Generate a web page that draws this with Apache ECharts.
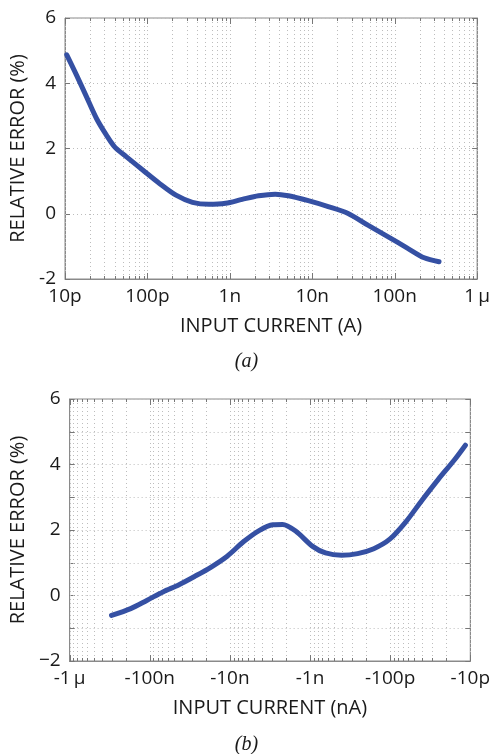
<!DOCTYPE html>
<html>
<head>
<meta charset="utf-8">
<script src="https://cdn.jsdelivr.net/npm/echarts@6/dist/echarts.min.js"></script>
<style>
  html, body { margin: 0; padding: 0; background: #ffffff; }
  #chart { width: 493px; height: 754px; }
</style>
</head>
<body>
<div id="chart"></div>
<script>
// (a) positive input current (A) vs. relative error (%)
const currentA = [1.05e-11, 1.38e-11, 1.82e-11, 2.41e-11, 3.18e-11, 4.0e-11, 5.53e-11, 8.77e-11,
  1.40e-10, 2.22e-10, 3.52e-10, 5.58e-10, 8.87e-10, 1.41e-9, 2.23e-9, 3.55e-9, 5.14e-9,
  8.95e-9, 1.56e-8, 2.72e-8, 4.73e-8, 8.24e-8, 1.44e-7, 2.28e-7, 3.45e-7];
const errorA = [4.87, 4.25, 3.59, 2.92, 2.41, 2.05, 1.75, 1.34,
  0.93, 0.57, 0.35, 0.29, 0.32, 0.44, 0.55, 0.60, 0.55,
  0.40, 0.22, 0.01, -0.35, -0.70, -1.06, -1.35, -1.47];

// (b) negative input current (A) vs. relative error (%)
const currentB = [-3.0e-7, -1.73e-7, -1.09e-7, -6.84e-8, -4.31e-8, -2.72e-8, -1.71e-8, -1.08e-8,
  -6.78e-9, -4.27e-9, -2.9e-9, -2.2e-9, -1.5e-9, -9.27e-10, -6.41e-10, -4.04e-10,
  -2.55e-10, -1.60e-10, -1.01e-10, -6.37e-11, -4.0e-11, -2.52e-11, -1.59e-11, -1.15e-11];
const errorB = [-0.61, -0.40, -0.15, 0.11, 0.33, 0.59, 0.87, 1.20,
  1.64, 1.99, 2.16, 2.17, 1.96, 1.50, 1.30, 1.23,
  1.28, 1.43, 1.72, 2.25, 2.91, 3.54, 4.13, 4.59];

// Decade ticks and their labels
const decades = [1e-11, 1e-10, 1e-9, 1e-8, 1e-7, 1e-6];
const tickLabelsA = ['10p', '100p', '1n', '10n', '100n', '1\u2009\u00b5'];
const tickLabelsB = ['-10p', '-100p', '-1n', '-10n', '-100n', '-1\u2009\u00b5'];

const FONT = 'Open Sans';
const LINE_COLOR = '#3550a3';
const FRAME = '#8a8a8a';
const DOT = '#bdbdbd';

function decadeLabel(labels) {
  return function (v) {
    const lg = Math.log10(v);
    for (let i = 0; i < decades.length; i++) {
      if (Math.abs(lg - Math.log10(decades[i])) < 0.01) return labels[i];
    }
    return '';
  };
}

// Log-decade grid positions: 1..9 times each decade
const gridMarks = [];
decades.forEach(function (d, i) {
  for (let m = 1; m <= 9; m++) {
    if (i === decades.length - 1 && m > 1) break;
    gridMarks.push([d * m, m === 1 ? 1 : 0]);
  }
});

function gridRenderer(yMin, yMax) {
  return function (params, api) {
    const x = api.value(0);
    const major = api.value(1);
    const top = api.coord([x, yMax]);
    const bot = api.coord([x, yMin]);
    const len = major ? 6 : 3;
    const px = Math.round(top[0]) + 0.5;
    return {
      type: 'group',
      children: [
        { type: 'line', shape: { x1: px, y1: top[1], x2: px, y2: bot[1] },
          style: { stroke: DOT, lineWidth: 1, lineDash: [1, 3] } },
        { type: 'line', shape: { x1: px, y1: top[1], x2: px, y2: top[1] + len },
          style: { stroke: '#777', lineWidth: 1 } },
        { type: 'line', shape: { x1: px, y1: bot[1], x2: px, y2: bot[1] - len },
          style: { stroke: '#777', lineWidth: 1 } }
      ]
    };
  };
}

function xAxisCfg(gridIndex, labels, name, inverse) {
  return {
    gridIndex: gridIndex, type: 'log', logBase: 10, min: 1e-11, max: 1e-6, inverse: inverse,
    axisLine: { show: true, onZero: false, lineStyle: { color: FRAME, width: 1 } },
    axisTick: { show: false },
    splitLine: { show: false },
    minorTick: { show: false },
    axisLabel: { formatter: decadeLabel(labels), color: '#1a1a1a', fontFamily: FONT, fontSize: 19, margin: 8 },
    name: name, nameLocation: 'middle', nameGap: 37,
    nameTextStyle: { color: '#1a1a1a', fontFamily: FONT, fontSize: 20 }
  };
}

function yAxisLeft(gridIndex, interval, minusSign) {
  return {
    gridIndex: gridIndex, type: 'value', min: -2, max: 6, interval: interval,
    axisLine: { show: true, onZero: false, lineStyle: { color: FRAME, width: 1 } },
    axisTick: { show: true, inside: true, length: 5, lineStyle: { color: '#777' } },
    splitLine: { show: true, lineStyle: { color: DOT, type: [1, 3], width: 1 } },
    axisLabel: {
      color: '#1a1a1a', fontFamily: FONT, fontSize: 19, margin: 9,
      formatter: function (v) {
        if (Math.round(v) % 2 !== 0) return '';
        if (v < 0) return (minusSign ? '\u2212' : '-') + Math.abs(v);
        return String(v);
      }
    },
    name: 'RELATIVE ERROR (%)', nameLocation: 'middle', nameGap: 32,
    nameTextStyle: { color: '#1a1a1a', fontFamily: FONT, fontSize: 20 }
  };
}

function yAxisRight(gridIndex, interval) {
  return {
    gridIndex: gridIndex, type: 'value', min: -2, max: 6, interval: interval, position: 'right',
    axisLine: { show: true, onZero: false, lineStyle: { color: FRAME, width: 1 } },
    axisTick: { show: true, inside: true, length: 5, lineStyle: { color: '#777' } },
    splitLine: { show: false },
    axisLabel: { show: false }
  };
}

const chart = echarts.init(document.getElementById('chart'), null, { renderer: 'canvas' });

chart.setOption({
  backgroundColor: '#ffffff',
  animation: false,
  grid: [
    { left: 65, top: 18, width: 414, height: 261, show: true, borderColor: FRAME, borderWidth: 1 },
    { left: 65, top: 399, width: 414, height: 262, show: true, borderColor: FRAME, borderWidth: 1 }
  ],
  xAxis: [
    xAxisCfg(0, tickLabelsA, 'INPUT CURRENT (A)', false),
    xAxisCfg(1, tickLabelsB, 'INPUT CURRENT (nA)', true)
  ],
  yAxis: [
    yAxisLeft(0, 2, false),
    yAxisRight(0, 2),
    yAxisLeft(1, 1, true),
    yAxisRight(1, 1)
  ],
  graphic: [
    { type: 'text', left: 'center', top: 352,
      style: { text: '(a)', font: 'italic 20px "Liberation Serif", serif', fill: '#1a1a1a' } },
    { type: 'text', left: 'center', top: 735,
      style: { text: '(b)', font: 'italic 20px "Liberation Serif", serif', fill: '#1a1a1a' } }
  ],
  series: [
    { type: 'custom', xAxisIndex: 0, yAxisIndex: 0, silent: true, z: 1,
      renderItem: gridRenderer(-2, 6), data: gridMarks },
    { type: 'custom', xAxisIndex: 1, yAxisIndex: 2, silent: true, z: 1,
      renderItem: gridRenderer(-2, 6), data: gridMarks },
    { type: 'line', xAxisIndex: 0, yAxisIndex: 0, smooth: 0.3, showSymbol: false, z: 5,
      lineStyle: { color: LINE_COLOR, width: 5, cap: 'round' },
      data: currentA.map(function (c, i) { return [c, errorA[i]]; }) },
    { type: 'line', xAxisIndex: 1, yAxisIndex: 2, smooth: 0.3, showSymbol: false, z: 5,
      lineStyle: { color: LINE_COLOR, width: 5, cap: 'round' },
      data: currentB.map(function (c, i) { return [-c, errorB[i]]; }) }
  ]
});
</script>
</body>
</html>
